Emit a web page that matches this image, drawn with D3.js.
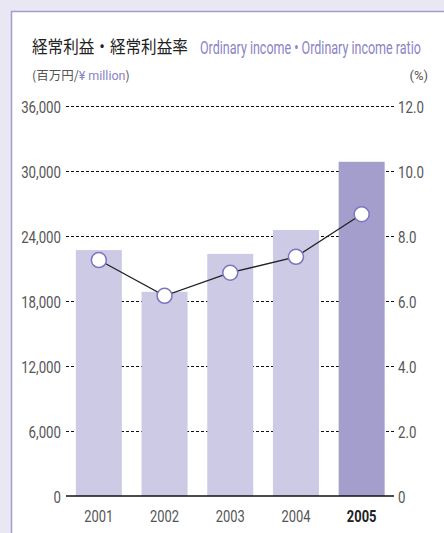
<!DOCTYPE html>
<html><head><meta charset="utf-8">
<script src="https://cdn.jsdelivr.net/npm/d3@7/dist/d3.min.js"></script>
<style>
html,body{margin:0;padding:0;background:#e9e7f4;}
svg{display:block;}
</style></head>
<body>
<svg id="c" width="444" height="533"></svg>
<script>
const years = ["2001","2002","2003","2004","2005"];
const income = [22700, 18850, 22350, 24550, 30850];
const ratio = [7.26, 6.16, 6.87, 7.36, 8.67];
const leftTicks = [0, 6000, 12000, 18000, 24000, 30000, 36000];
const rightTicks = [0, 2, 4, 6, 8, 10, 12];

const svg = d3.select("#c");
// panel
svg.append("rect").attr("x",11.5).attr("y",11.5).attr("width",460).attr("height",560)
  .attr("fill","#fff").attr("stroke","#a29cd2").attr("stroke-width",1.5);

const x = d3.scaleBand().domain(years).range([66,394.5]).paddingInner(0.3).paddingOuter(0.15);
const yL = d3.scaleLinear().domain([0,36000]).range([496,106]);
const yR = d3.scaleLinear().domain([0,12]).range([496,106]);

// gridlines
svg.append("g").selectAll("line").data(leftTicks.filter(d=>d>0)).join("line")
  .attr("x1",66).attr("x2",394).attr("y1",d=>yL(d)+0.5).attr("y2",d=>yL(d)+0.5)
  .attr("stroke","#111").attr("stroke-width",1).attr("stroke-dasharray","3,2");

// bars
svg.append("g").selectAll("rect").data(years).join("rect")
  .attr("x",d=>x(d)).attr("width",x.bandwidth())
  .attr("y",(d,i)=>yL(income[i])).attr("height",(d,i)=>yL(0)-yL(income[i]))
  .attr("fill",(d,i)=>i===4?"#a49ecd":"#cdcae6");

// baseline
svg.append("line").attr("x1",66).attr("x2",394).attr("y1",496).attr("y2",496)
  .attr("stroke","#111").attr("stroke-width",1.5);

// axes
const fmtL = d3.format(",");
const gL = svg.append("g").attr("transform","translate(66,0)")
  .call(d3.axisLeft(yL).tickValues(leftTicks).tickSize(0).tickPadding(5).tickFormat(fmtL));
const gR = svg.append("g").attr("transform","translate(394,0)")
  .call(d3.axisRight(yR).tickValues(rightTicks).tickSize(0).tickPadding(4).tickFormat(d=>d===0?"0":d3.format(".1f")(d)));
[gL,gR].forEach(g=>{
  g.select(".domain").remove();
  g.selectAll("text").attr("font-family","Roboto, sans-serif").attr("font-size",17)
   .attr("fill","#555").attr("dy","0.36em");
  g.selectAll(".tick text").each(function(){
    const t=d3.select(this); const xx=+t.attr("x");
    t.attr("x",0).attr("transform",`translate(${xx},0) scale(0.78,1)`);
  });
});

// x labels
svg.append("g").selectAll("text").data(years).join("text")
  .attr("transform",d=>`translate(${x(d)+x.bandwidth()/2},522) scale(0.76,1)`)
  .attr("text-anchor","middle").attr("font-family","Roboto, sans-serif").attr("font-size",17)
  .attr("font-weight",(d,i)=>i===4?"bold":"normal")
  .attr("fill",(d,i)=>i===4?"#222":"#555").text(d=>d);

// line
const line = d3.line().x((d,i)=>x(years[i])+x.bandwidth()/2).y(d=>yR(d));
svg.append("path").datum(ratio).attr("d",line).attr("fill","none")
  .attr("stroke","#222").attr("stroke-width",1.3);
svg.append("g").selectAll("circle").data(ratio).join("circle")
  .attr("cx",(d,i)=>x(years[i])+x.bandwidth()/2).attr("cy",d=>yR(d)).attr("r",7.5)
  .attr("fill","#fff").attr("stroke","#7d74c2").attr("stroke-width",1.5);

// titles (fit to measured widths by horizontal scaling)
function fitText(sel, x0, y0, w){
  const n = sel.node(); const L = n.getComputedTextLength();
  sel.attr("x",0).attr("y",0).attr("transform",`translate(${x0},${y0}) scale(${w/L},1)`);
}
const t1 = svg.append("text").attr("font-family","'Noto Sans CJK JP', sans-serif")
  .attr("font-size",17.5).attr("fill","#222").text("経常利益・経常利益率");
fitText(t1, 32, 53, 156);
const t2 = svg.append("text").attr("font-family","Roboto, sans-serif")
  .attr("font-size",19).attr("fill","#8a83c6").text("Ordinary income • Ordinary income ratio");
fitText(t2, 200, 54, 221);
const sub = svg.append("text").attr("x",32).attr("y",80).attr("font-family","'Noto Sans CJK JP', sans-serif")
  .attr("font-size",12.5).attr("fill","#555");
sub.append("tspan").text("(百万円/");
sub.append("tspan").attr("fill","#8a83c6").attr("font-family","Roboto, sans-serif").text("¥ million");
sub.append("tspan").text(")");
svg.append("text").attr("x",428).attr("y",80).attr("text-anchor","end").attr("font-family","Roboto, sans-serif")
  .attr("font-size",13).attr("fill","#555").text("(%)");
</script>
</body></html>
